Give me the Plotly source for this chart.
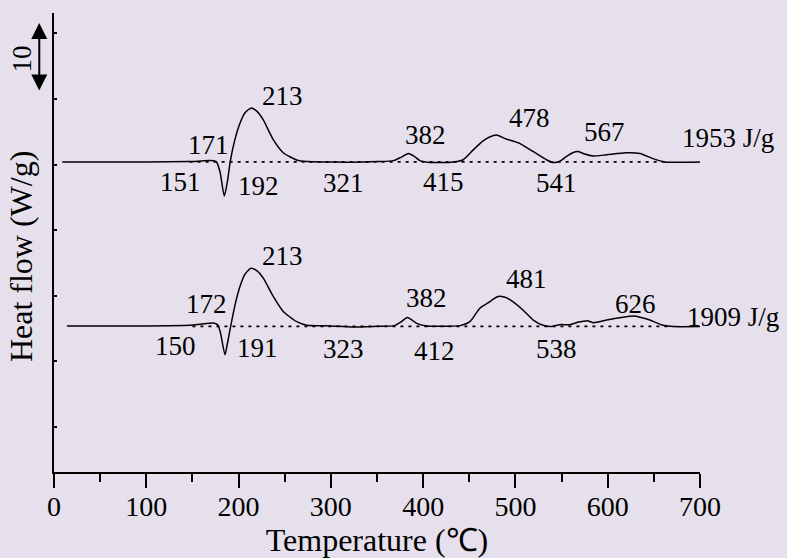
import plotly.graph_objects as go

# ---- data ----
temp_a = [9, 100, 147, 160, 170, 176, 180, 184.5, 188, 191, 196, 201.5, 207, 213.4, 220, 226.8,
          237.6, 248.4, 263, 274, 300, 321, 350, 368, 376, 384, 390, 396.5, 405, 415, 430, 443,
          454, 465, 472, 479.6, 490, 505, 519, 534, 541.7, 548, 555, 562, 568, 575, 584, 599,
          620, 635, 649, 662, 702]
flow_a = [40.4, 40.4, 40.45, 40.55, 40.6, 40.4, 38.8, 35.2, 37.5, 40.5, 43.8, 46.3, 47.9, 48.6,
          48.1, 46.8, 43.8, 41.8, 40.7, 40.45, 40.4, 40.35, 40.45, 40.6, 41.1, 41.7, 41.3, 40.6,
          40.35, 40.3, 40.35, 40.7, 42.2, 43.6, 44.2, 44.5, 43.9, 43.2, 42.0, 40.7, 40.3, 40.5,
          41.2, 41.8, 42.0, 41.6, 41.3, 41.5, 41.8, 41.7, 40.9, 40.4, 40.4]

temp_b = [14, 100, 147, 160, 172.6, 177, 180, 185.3, 188, 190.7, 196, 201.5, 207, 213.4, 220,
          226.8, 237.6, 248.4, 263, 274, 300, 323, 350, 369, 376, 382.8, 388, 393, 403.8, 412,
          440, 450.7, 461.5, 472.4, 476, 481.4, 488, 494, 508.4, 519.3, 530, 539, 548, 559, 566,
          573.5, 578, 584, 602, 615, 627.6, 636, 645.7, 660, 671, 701]
flow_b = [15.4, 15.4, 15.5, 15.7, 15.85, 15.6, 14.6, 11.0, 12.8, 14.8, 18.5, 21.4, 23.3, 24.2,
          23.8, 22.7, 19.9, 17.6, 16.05, 15.5, 15.4, 15.25, 15.35, 15.45, 16.0, 16.7, 16.3, 15.8,
          15.4, 15.35, 15.45, 16.05, 18.1, 19.1, 19.5, 19.9, 19.8, 19.4, 17.8, 16.3, 15.5, 15.3,
          15.6, 15.6, 15.9, 16.1, 16.2, 15.9, 16.4, 16.7, 16.9, 16.7, 16.3, 15.5, 15.3, 15.3]

base_a_x = [147, 664]
base_a_y = [40.4, 40.4]
base_b_x = [150, 670]
base_b_y = [15.35, 15.35]

labels_a = ["213", "171", "151", "192", "321", "382", "415", "478", "541", "567"]
labels_a_x = [247.6, 167.2, 137.6, 222, 314, 402.8, 422.5, 515, 544.6, 597]
labels_a_y = [50.5, 43.0, 37.3, 36.7, 37.2, 44.5, 37.4, 47.1, 37.2, 45.0]

labels_b = ["213", "172", "150", "191", "323", "382", "412", "481", "538", "626"]
labels_b_x = [247.6, 165.4, 132, 220.5, 314, 404, 412.4, 512, 545, 630.6]
labels_b_y = [26.1, 18.75, 12.35, 12.0, 11.9, 19.7, 11.6, 22.6, 11.9, 18.75]

# total enthalpy labels (sit right of the axis end, positioned in paper units)
totals = ["1953 J/g", "1909 J/g"]
totals_xp = [1.0426, 1.0511]
totals_y = [44.0, 16.8]

x_ticks = [0, 100, 200, 300, 400, 500, 600, 700]
scale_label = "10"
y_title = "Heat flow (W/g)"

BG = "rgb(229,224,236)"
FONT = "Liberation Serif"

fig = go.Figure()
fig.add_trace(go.Scatter(x=temp_a, y=flow_a, mode="lines", line=dict(color="black", width=1.5, shape="spline", smoothing=0.6), showlegend=False))
fig.add_trace(go.Scatter(x=temp_b, y=flow_b, mode="lines", line=dict(color="black", width=1.5, shape="spline", smoothing=0.6), showlegend=False))
fig.add_trace(go.Scatter(x=base_a_x, y=base_a_y, mode="lines", line=dict(color="black", width=1.8, dash="3px,5px"), showlegend=False))
fig.add_trace(go.Scatter(x=base_b_x, y=base_b_y, mode="lines", line=dict(color="black", width=1.8, dash="3px,5px"), showlegend=False))

for t, x, y in list(zip(labels_a, labels_a_x, labels_a_y)) + list(zip(labels_b, labels_b_x, labels_b_y)):
    fig.add_annotation(x=x, y=y, text=t, showarrow=False, xref="x", yref="y",
                       xanchor="center", yanchor="middle",
                       font=dict(family=FONT, size=27, color="black"))
for t, x, y in zip(totals, totals_xp, totals_y):
    fig.add_annotation(x=x, y=y, text=t, showarrow=False, xref="paper", yref="y",
                       xanchor="center", yanchor="middle",
                       font=dict(family=FONT, size=27, color="black"))

# scale bar
fig.add_annotation(x=-0.0228, y=51.27, xref="paper", yref="y", text="", showarrow=True,
                   ax=0, ay=-69, axref="pixel", ayref="pixel", arrowside="end+start",
                   arrowhead=2, startarrowhead=2, arrowsize=1.6, startarrowsize=1.6,
                   arrowwidth=2, arrowcolor="black", standoff=0, startstandoff=0)
fig.add_annotation(x=-0.0495, y=56.0, xref="paper", yref="y", text=scale_label, showarrow=False,
                   xanchor="center", yanchor="middle",
                   textangle=-90, font=dict(family=FONT, size=27, color="black"))
# y-axis title (placed lower than the axis centre, as in the reference)
fig.add_annotation(x=-0.051, y=25.9, xref="paper", yref="y", text=y_title, showarrow=False,
                   xanchor="center", yanchor="middle",
                   textangle=-90, font=dict(family=FONT, size=32, color="black"))

fig.update_layout(
    width=787, height=558,
    margin=dict(l=54, r=87, t=13, b=86, autoexpand=False),
    paper_bgcolor=BG, plot_bgcolor=BG,
    font=dict(family=FONT, color="black"),
    xaxis=dict(range=[0, 700], tickvals=x_ticks, ticks="outside", ticklen=14, tickwidth=2,
               tickcolor="black", showline=True, linecolor="black", linewidth=2,
               showgrid=False, zeroline=False, tickfont=dict(family=FONT, size=28),
               ticklabelstandoff=-6, automargin=False,
               minor=dict(dtick=50, tick0=0, ticks="outside", ticklen=8, tickwidth=2, tickcolor="black"),
               title=dict(text="Temperature (℃)", font=dict(family=FONT, size=32), standoff=0)),
    yaxis=dict(range=[-6.86, 63.1], tick0=0, dtick=10, ticks="inside", ticklen=3, tickwidth=1.5,
               tickcolor="black", showticklabels=False, showline=True, linecolor="black",
               linewidth=2, showgrid=False, zeroline=False, automargin=False),
)

fig.write_html("out.html", config={"displayModeBar": False},
               post_script="document.body.style.margin='0px';document.body.style.background='%s';" % BG)
